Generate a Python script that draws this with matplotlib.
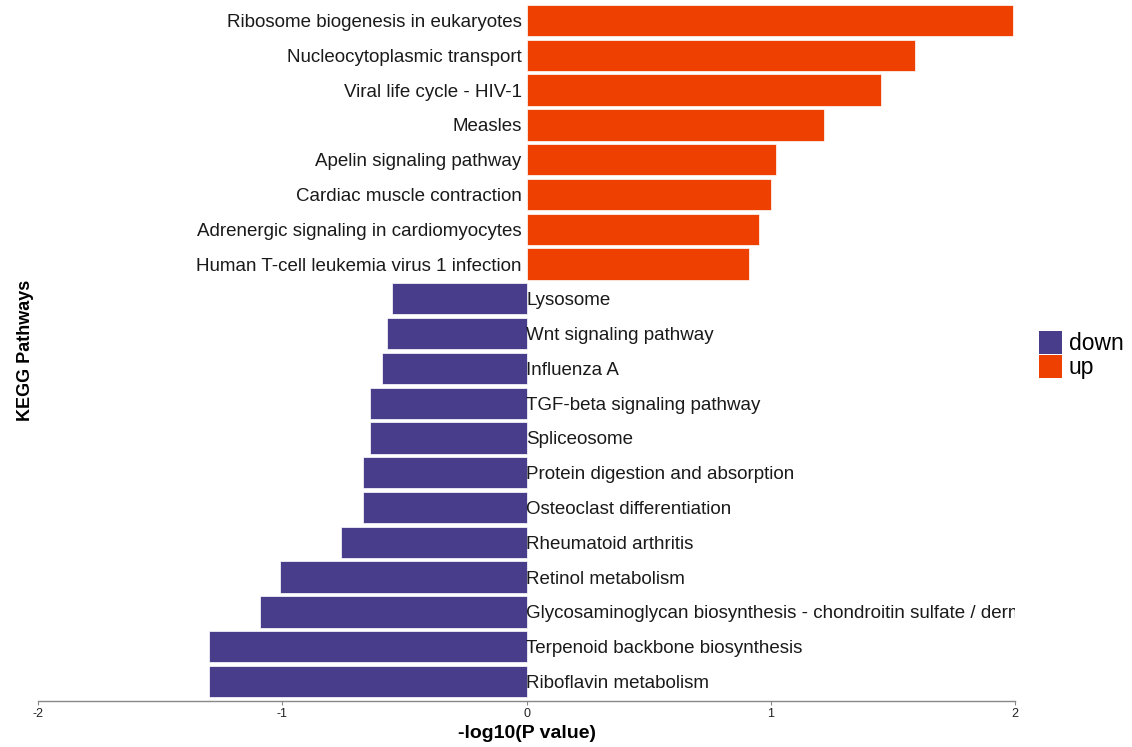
import matplotlib.pyplot as plt
from matplotlib.patches import Patch

plt.rcParams['font.family'] = ['Liberation Sans', 'DejaVu Sans']

# pathways listed top to bottom
up_names = ['Ribosome biogenesis in eukaryotes', 'Nucleocytoplasmic transport',
            'Viral life cycle - HIV-1', 'Measles', 'Apelin signaling pathway',
            'Cardiac muscle contraction', 'Adrenergic signaling in cardiomyocytes',
            'Human T-cell leukemia virus 1 infection']
up_vals = [1.99, 1.59, 1.45, 1.22, 1.02, 1.00, 0.95, 0.91]

down_names = ['Lysosome', 'Wnt signaling pathway', 'Influenza A',
              'TGF-beta signaling pathway', 'Spliceosome',
              'Protein digestion and absorption', 'Osteoclast differentiation',
              'Rheumatoid arthritis', 'Retinol metabolism',
              'Glycosaminoglycan biosynthesis - chondroitin sulfate / dermatan sulfate',
              'Terpenoid backbone biosynthesis', 'Riboflavin metabolism']
down_vals = [-0.55, -0.57, -0.59, -0.64, -0.64, -0.67, -0.67, -0.76, -1.01, -1.09, -1.30, -1.30]

col_up = '#EE4000'
col_down = '#483D8B'

names = up_names + down_names
vals = up_vals + down_vals
n = len(names)
ypos = [n - 1 - i for i in range(n)]
cols = [col_up] * len(up_vals) + [col_down] * len(down_vals)

fig = plt.figure(figsize=(11.32, 7.47), dpi=100)
ax = fig.add_axes([38 / 1132, 46 / 747, (1015 - 38) / 1132, 701 / 747])

ax.barh(ypos, vals, height=0.9, color=cols, edgecolor='white', linewidth=0.5)

# labels: up on the left of zero, down on the right
for y, v, name in zip(ypos, vals, names):
    if v > 0:
        ax.text(-0.02, y, name, ha='right', va='center_baseline', fontsize=13.5,
                color='#1a1a1a')
    else:
        ax.text(0.0, y, name, ha='left', va='center_baseline', fontsize=13.5,
                color='#1a1a1a', clip_on=True)

ax.set_xlim(-2, 2)
ax.set_ylim(-0.56, n - 1 + 0.59)
ax.set_yticks([])
ax.set_xticks([-2, -1, 0, 1, 2])
ax.set_xticklabels(['-2', '-1', '0', '1', '2'], fontsize=9, color='#222222')
ax.tick_params(axis='x', length=3, color='#888888', pad=2)
for s in ['top', 'right', 'left']:
    ax.spines[s].set_visible(False)
ax.spines['bottom'].set_color('#888888')
ax.spines['bottom'].set_linewidth(1.0)
ax.set_facecolor('none')

ax.set_xlabel('-log10(P value)', fontsize=14, fontweight='bold', labelpad=4)
ax.set_ylabel('KEGG Pathways', fontsize=13, fontweight='bold', labelpad=3)

handles = [Patch(facecolor=col_down, edgecolor='none', label='down'),
           Patch(facecolor=col_up, edgecolor='none', label='up')]
fig.legend(handles=handles, loc='center left', bbox_to_anchor=(1023 / 1132, 1 - 355 / 747),
           frameon=False, fontsize=16.5, handlelength=1.0, handleheight=1.2,
           handletextpad=0.3, labelspacing=0.0, borderpad=0.2)

fig.savefig('out.png', dpi=100)
